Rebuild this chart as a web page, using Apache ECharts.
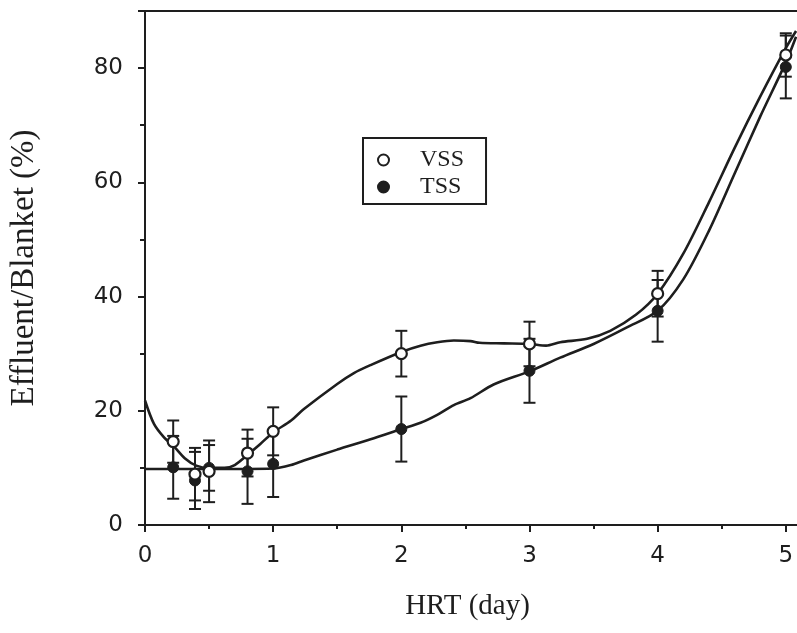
<!DOCTYPE html>
<html>
<head>
<meta charset="utf-8">
<script src="https://cdn.jsdelivr.net/npm/echarts@6/dist/echarts.min.js"></script>
<style>
  html, body { margin: 0; padding: 0; background: #ffffff; overflow: hidden; }
  /* the plot frame runs past the right edge of the window, so the canvas is wider than the view */
  #chart { width: 840px; height: 633px; }
</style>
</head>
<body>
<div id="chart"></div>
<script>
// Measured points: HRT (day) and effluent/blanket ratio (%) with error bars
const hrtDays = [0.22, 0.39, 0.5, 0.8, 1, 2, 3, 4, 5];
const vssValues = [14.6, 8.9, 9.4, 12.6, 16.4, 30.0, 31.7, 40.5, 82.3];
const vssErrors = [3.7, 4.6, 5.4, 4.1, 4.2, 4.0, 3.9, 4.0, 3.8];
const tssValues = [10.1, 7.8, 10.0, 9.4, 10.7, 16.8, 27.0, 37.5, 80.2];
const tssErrors = [5.5, 5.0, 4.0, 5.7, 5.8, 5.7, 5.6, 5.4, 5.5];

// Fitted curves traced as [HRT, %] pairs
const vssCurve = [
  [0, 21.8], [0.07, 17.7], [0.15, 15.3], [0.22, 13.9], [0.31, 11.7], [0.4, 10.4],
  [0.5, 10.0], [0.62, 10.0], [0.7, 10.5], [0.8, 12.3], [0.9, 14.2], [1.0, 16.2],
  [1.14, 18.3], [1.24, 20.3], [1.5, 24.7], [1.63, 26.6], [1.76, 28.0], [2.0, 30.3],
  [2.15, 31.4], [2.28, 32.0], [2.41, 32.3], [2.54, 32.2], [2.61, 31.9], [2.8, 31.8],
  [3.0, 31.7], [3.13, 31.4], [3.24, 32.0], [3.45, 32.6], [3.63, 34.0], [3.83, 36.8],
  [4.0, 40.5], [4.2, 47.5], [4.4, 56.5], [4.6, 66.0], [4.8, 75.0], [5.0, 83.5], [5.08, 86.5]
];
const tssCurve = [
  [0, 9.8], [0.5, 9.8], [1.0, 9.9], [1.14, 10.5], [1.24, 11.3], [1.5, 13.2],
  [1.76, 15.0], [2.0, 16.8], [2.15, 17.9], [2.28, 19.3], [2.41, 21.0], [2.54, 22.2],
  [2.72, 24.6], [3.0, 26.9], [3.24, 29.3], [3.5, 31.7], [3.76, 34.6], [4.0, 37.5],
  [4.2, 43.0], [4.4, 51.5], [4.6, 61.5], [4.8, 71.5], [5.0, 81.0], [5.08, 85.5]
];

const xTickValues = [0, 1, 2, 3, 4, 5];
const yTickValues = [0, 20, 40, 60, 80];

const ink = '#1e1e1e';
const serif = '"Liberation Serif", "Times New Roman", serif';
const sans = '"DejaVu Sans", Verdana, sans-serif';

function pairs(xs, ys) {
  return xs.map((x, i) => [x, ys[i]]);
}
function ranges(xs, ys, es) {
  return xs.map((x, i) => [x, ys[i] - es[i], ys[i] + es[i]]);
}

function renderErrorBar(params, api) {
  const x = api.value(0);
  const lo = api.coord([x, api.value(1)]);
  const hi = api.coord([x, api.value(2)]);
  const hw = 6;
  const style = { stroke: ink, lineWidth: 2 };
  return {
    type: 'group',
    children: [
      { type: 'line', shape: { x1: lo[0], y1: lo[1], x2: hi[0], y2: hi[1] }, style },
      { type: 'line', shape: { x1: lo[0] - hw, y1: lo[1], x2: lo[0] + hw, y2: lo[1] }, style },
      { type: 'line', shape: { x1: hi[0] - hw, y1: hi[1], x2: hi[0] + hw, y2: hi[1] }, style }
    ]
  };
}

const chart = echarts.init(document.getElementById('chart'), null, { renderer: 'canvas' });

chart.setOption({
  backgroundColor: '#ffffff',
  animation: false,
  grid: {
    left: 144, top: 11, width: 670, bottom: 108,
    show: true, borderColor: ink, borderWidth: 2, backgroundColor: 'transparent'
  },
  legend: {
    data: ['VSS', 'TSS'],
    orient: 'vertical',
    left: 363, top: 138,
    borderColor: ink, borderWidth: 2,
    padding: [10, 22, 5, 14],
    itemGap: 3,
    itemWidth: 11, itemHeight: 11,
    textStyle: { fontFamily: serif, fontSize: 24, color: ink, padding: [0, 0, 0, 26] }
  },
  xAxis: {
    type: 'value', min: 0, max: 5.22, interval: 1,
    name: 'HRT (day)', nameLocation: 'middle', nameGap: 67,
    nameTextStyle: { fontFamily: serif, fontSize: 29, color: ink, padding: [0, 24, 0, 0] },
    axisLine: { lineStyle: { color: ink, width: 2 } },
    axisTick: { length: 7, lineStyle: { color: ink, width: 2 } },
    minorTick: { show: true, splitNumber: 2, length: 4, lineStyle: { color: ink, width: 2 } },
    splitLine: { show: false },
    axisLabel: {
      margin: 20, fontFamily: sans, fontSize: 23, color: ink,
      formatter: v => (xTickValues.includes(v) ? String(v) : '')
    }
  },
  yAxis: {
    type: 'value', min: 0, max: 90, interval: 20,
    name: 'Effluent/Blanket (%)', nameLocation: 'middle', nameGap: 104,
    nameTextStyle: { fontFamily: serif, fontSize: 33, color: ink },
    axisLine: { lineStyle: { color: ink, width: 2 } },
    axisTick: { length: 7, lineStyle: { color: ink, width: 2 } },
    minorTick: { show: true, splitNumber: 2, length: 5, lineStyle: { color: ink, width: 2 } },
    splitLine: { show: false },
    axisLabel: {
      margin: 22, fontFamily: sans, fontSize: 23, color: ink,
      formatter: v => (yTickValues.includes(v) ? String(v) : '')
    }
  },
  series: [
    {
      name: 'VSS fit', type: 'line', data: vssCurve, smooth: 0.3,
      symbol: 'none', lineStyle: { color: ink, width: 2.6 }, z: 2, silent: true
    },
    {
      name: 'TSS fit', type: 'line', data: tssCurve, smooth: 0.3,
      symbol: 'none', lineStyle: { color: ink, width: 2.6 }, z: 2, silent: true
    },
    {
      name: 'TSS error', type: 'custom', renderItem: renderErrorBar,
      data: ranges(hrtDays, tssValues, tssErrors), encode: { x: 0, y: [1, 2] }, z: 3, silent: true
    },
    {
      name: 'VSS error', type: 'custom', renderItem: renderErrorBar,
      data: ranges(hrtDays, vssValues, vssErrors), encode: { x: 0, y: [1, 2] }, z: 3, silent: true
    },
    {
      name: 'TSS', type: 'scatter', data: pairs(hrtDays, tssValues),
      symbol: 'circle', symbolSize: 11,
      itemStyle: { color: ink, borderColor: ink, borderWidth: 1, opacity: 1 }, z: 4
    },
    {
      name: 'VSS', type: 'scatter', data: pairs(hrtDays, vssValues),
      symbol: 'circle', symbolSize: 11,
      itemStyle: { color: '#ffffff', borderColor: ink, borderWidth: 2.2, opacity: 1 }, z: 5
    }
  ]
});
</script>
</body>
</html>
